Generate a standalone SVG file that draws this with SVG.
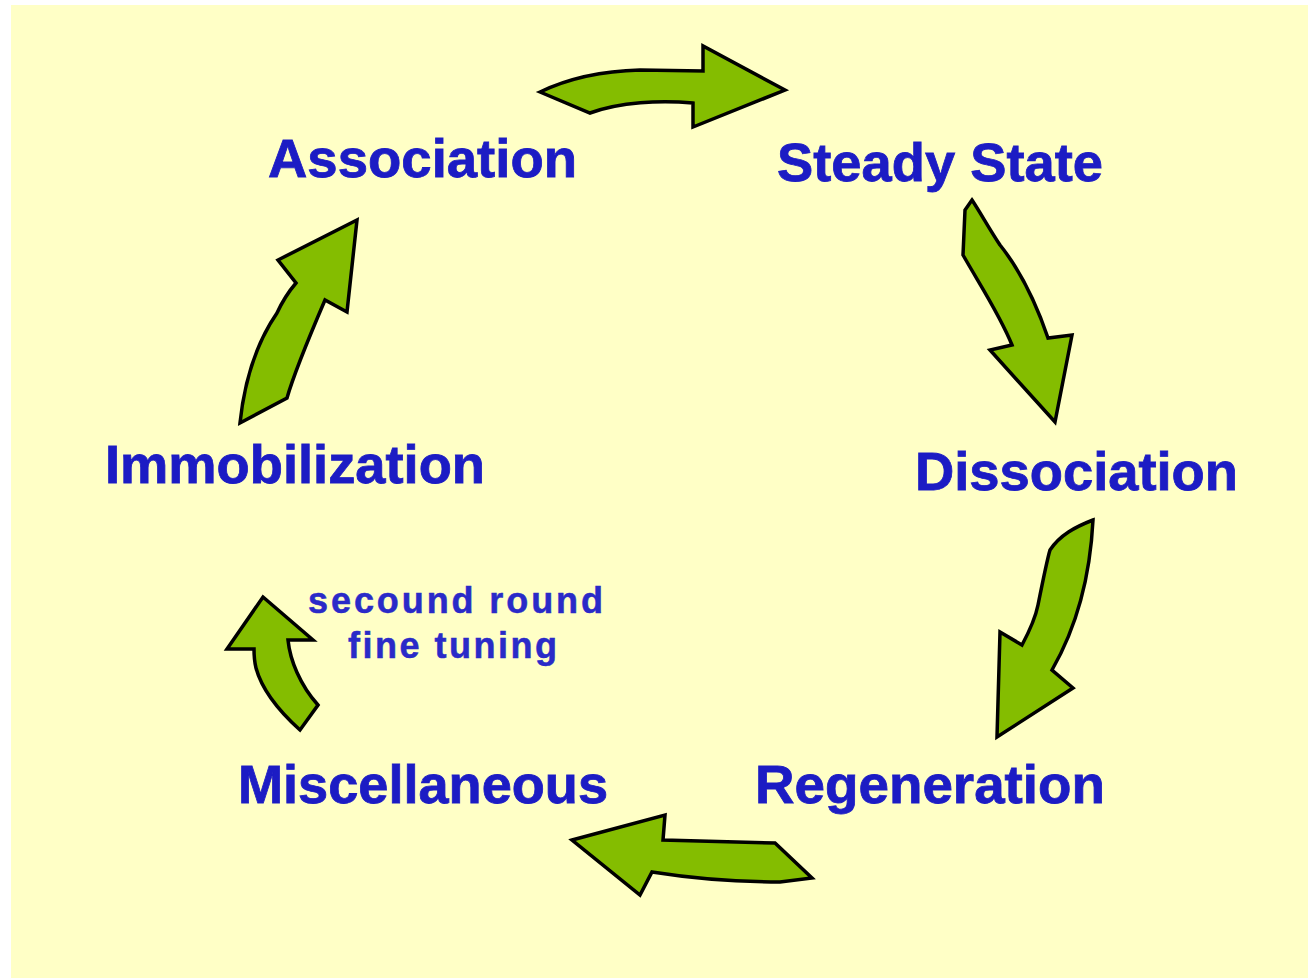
<svg xmlns="http://www.w3.org/2000/svg" width="1308" height="978" viewBox="0 0 1308 978">
<style>
.lbl{font-family:"Liberation Sans",Arial,sans-serif;font-weight:bold;fill:#1c1cc4;stroke:#1c1cc4;stroke-width:0.8;font-size:53px}
.sm{font-family:"Liberation Sans",Arial,sans-serif;font-weight:bold;fill:#2a2ac8;stroke:#2a2ac8;stroke-width:0.5;font-size:36px}
.arr{fill:#84bd00;stroke:#000;stroke-width:3.5;stroke-linejoin:miter}
</style>
<rect x="0" y="0" width="1308" height="978" fill="#ffffff"/>
<rect x="11" y="5" width="1297" height="973" fill="#ffffc6"/>
<g id="connectors">
<path class="arr" d="M540,92 C565,80 600,71 640,70 L703,71 L703,46 L785,90 L693,127 L693,103 C660,100 620,102 590,113 Z"/>
<path class="arr" d="M972,200 L965,210 L963,255 C980,285 1000,315 1012,345 L990,350 L1055,422 L1072,335 L1048,338 C1035,300 1020,270 1000,245 C990,230 980,212 972,200 Z"/>
<path class="arr" d="M1093,520 C1090,580 1075,630 1052,670 L1073,688 L997,737 L1000,632 L1022,645 C1030,630 1036,615 1038,605 C1043,580 1047,560 1050,550 C1060,535 1075,527 1093,520 Z"/>
<path class="arr" d="M572,840 L665,815 L663,840 L775,843 L812,878 L780,882 C740,882 690,878 652,872 L640,895 Z"/>
<path class="arr" d="M263,597 L313,640 L288,640 C290,660 300,685 318,705 L300,730 C280,712 262,690 256,668 C254,660 254,655 254,649 L227,649 Z"/>
<path class="arr" d="M357,220 L347,312 L325,300 C310,335 295,370 287,398 L240,423 C244,385 255,345 277,313 C283,300 290,290 296,283 L278,260 Z"/>
</g>
<g id="association"><text class="lbl" x="268" y="177" textLength="309" lengthAdjust="spacingAndGlyphs">Association</text></g>
<g id="steady-state"><text class="lbl" x="777" y="181" textLength="326" lengthAdjust="spacingAndGlyphs">Steady State</text></g>
<g id="dissociation"><text class="lbl" x="915" y="490" textLength="323" lengthAdjust="spacingAndGlyphs">Dissociation</text></g>
<g id="regeneration"><text class="lbl" x="755" y="803" textLength="350" lengthAdjust="spacingAndGlyphs">Regeneration</text></g>
<g id="miscellaneous"><text class="lbl" x="238" y="803" textLength="370" lengthAdjust="spacingAndGlyphs">Miscellaneous</text></g>
<g id="immobilization"><text class="lbl" x="105" y="483" textLength="380" lengthAdjust="spacingAndGlyphs">Immobilization</text></g>
<g id="note">
<text class="sm" x="308" y="613" textLength="295" lengthAdjust="spacing">secound round</text>
<text class="sm" x="348" y="658" textLength="209" lengthAdjust="spacing">fine tuning</text>
</g>
</svg>
